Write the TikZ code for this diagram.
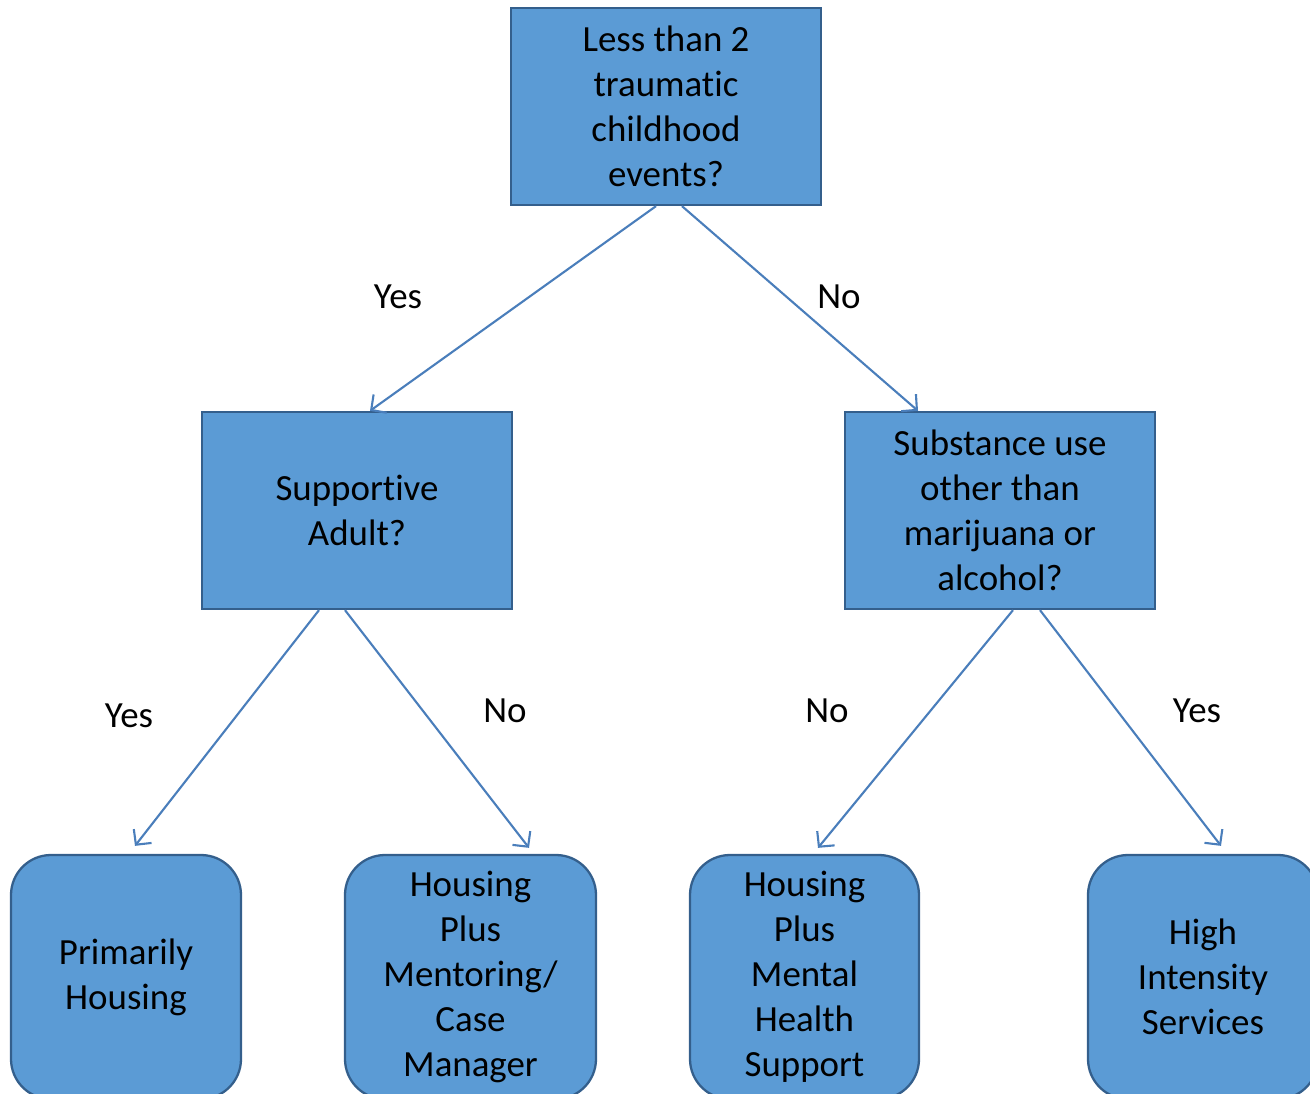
\documentclass[tikz,border=0pt]{standalone}
\usepackage{fontspec}
\setmainfont[Ligatures=NoCommon]{Carlito}
\usepackage{xcolor}
\usepackage{tikz}
\usetikzlibrary{arrows.meta,calc}
\definecolor{boxblue}{RGB}{91,155,213}
\definecolor{boxedge}{RGB}{52,95,140}
\definecolor{linkblue}{RGB}{74,126,187}
\newcommand{\nolig}{\kern0pt\relax}

\begin{document}
\begin{tikzpicture}[
    every node/.style={font=\fontsize{21}{25.6}\selectfont},
    question/.style={draw=boxedge, line width=1.3pt, fill=boxblue, align=center,
        minimum width=6.2cm, minimum height=3.94cm, inner sep=0pt},
    outcome/.style={draw=boxedge, line width=1.3pt, fill=boxblue, align=center,
        rounded corners=0.8cm, minimum height=4.88cm, inner sep=0pt},
    link/.style={draw=linkblue, line width=1.2pt,
        -{Straight Barb[length=0.22cm,width=0.45cm,line width=1.2pt]}}
]
    \useasboundingbox (0,0) rectangle (26.2,-21.88);

    % Questions
    \node[question] (trauma) at (13.32,-2.13) {Less than 2\\traumat\nolig ic\\childhood\\events?};
    \node[question] (adult) at (7.14,-10.21) {Support\nolig ive\\Adult?};
    \node[question] (subst) at (20.0,-10.21) {Substance use\\other than\\marijuana or\\alcohol?};

    % Outcomes
    \node[outcome, minimum width=4.6cm] (housing) at (2.52,-19.54) {Primarily\\Housing};
    \node[outcome, minimum width=5.02cm] (mentor) at (9.41,-19.54) {Housing\\Plus\\Mentoring/\\Case\\Manager};
    \node[outcome, minimum width=4.58cm] (mental) at (16.09,-19.54) {Housing\\Plus\\Mental\\Health\\Support};
    \node[outcome, minimum width=4.6cm] (intense) at (24.06,-19.54) {High\\Intensit\nolig y\\Services};

    % Connectors
    \draw[link] ($(trauma.south)+(-0.2,0)$) -- ($(adult.north)+(0.26,0)$);
    \draw[link] ($(trauma.south)+(0.32,0)$) -- ($(subst.north)+(-1.64,0)$);
    \draw[link] ($(adult.south)+(-0.76,0)$) -- ($(housing.north)+(0.18,0.16)$);
    \draw[link] ($(adult.south)+(-0.24,0)$) -- ($(mentor.north)+(1.17,0.12)$);
    \draw[link] ($(subst.south)+(0.26,0)$) -- ($(mental.north)+(0.27,0.12)$);
    \draw[link] ($(subst.south)+(0.8,0)$) -- ($(intense.north)+(0.36,0.16)$);

    % Answers
    \node (yes1) at (7.96,-5.94) {Yes};
    \node (no1) at (16.78,-5.94) {No};
    \node (yes2) at (2.58,-14.32) {Yes};
    \node (no2) at (10.1,-14.22) {No};
    \node (no3) at (16.54,-14.22) {No};
    \node (yes3) at (23.94,-14.22) {Yes};
\end{tikzpicture}
\end{document}
